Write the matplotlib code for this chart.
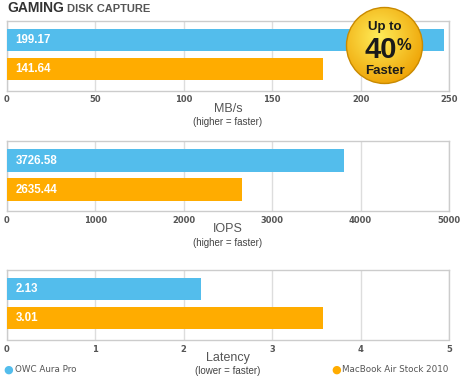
import matplotlib
matplotlib.use("Agg")
import matplotlib.pyplot as plt
import numpy as np
from matplotlib.patches import Circle
from matplotlib import font_manager as fm

# ---- data ----
series = ["OWC Aura Pro", "MacBook Air Stock 2010"]
metrics = ["MB/s", "IOPS", "Latency"]
subtitles = ["(higher = faster)", "(higher = faster)", "(lower = faster)"]
label_owc = ["199.17", "3726.58", "2.13"]
label_mba = ["141.64", "2635.44", "3.01"]
# bar lengths as drawn in the picture
bars_owc = [247, 3812, 2.20]
bars_mba = [178.5, 2662, 3.57]
xmax = [250, 5000, 5]
ticks = [[0, 50, 100, 150, 200, 250],
         [0, 1000, 2000, 3000, 4000, 5000],
         [0, 1, 2, 3, 4, 5]]

BLUE = "#53BDEC"
ORANGE = "#FFAC00"
W, H = 463, 380

fig = plt.figure(figsize=(W / 100, H / 100), dpi=100)
fig.patch.set_facecolor("white")

def fx(px):
    return px / W

def fy(py):
    return 1 - py / H

panel_tops = [21, 141.5, 270]
ax_left, ax_right = 7, 449
ph = 69.5

for i in range(3):
    top = panel_tops[i]
    ax = fig.add_axes([fx(ax_left), fy(top + ph), fx(ax_right - ax_left), ph / H])
    ax.barh([0, 1], [bars_owc[i], bars_mba[i]], height=0.76,
            color=[BLUE, ORANGE], zorder=3)
    ax.set_xlim(0, xmax[i])
    ax.set_ylim(1.74, -0.655)
    ax.set_xticks(ticks[i])
    ax.set_xticklabels([str(t) for t in ticks[i]], fontsize=6, fontweight="bold",
                       color="#555555", family="DejaVu Sans")
    ax.tick_params(axis="x", length=0, pad=3.6)
    ax.set_yticks([])
    ax.grid(axis="x", color="#dddddd", linewidth=1, zorder=0)
    for s in ax.spines.values():
        s.set_color("#cccccc")
        s.set_linewidth(1)
    for y, lab in zip([0, 1], [label_owc[i], label_mba[i]]):
        ax.annotate(lab, xy=(0, y), xytext=(6, 0), textcoords="offset points",
                    va="center", ha="left", color="white", fontsize=8.3,
                    fontweight="bold", family="Liberation Sans", zorder=4)
    cx = (ax_left + ax_right) / 2
    fig.text(fx(cx), fy(top + ph + 18), metrics[i], ha="center", va="center",
             fontsize=9, color="#555555", family="Liberation Sans")
    fig.text(fx(cx), fy(top + ph + 31.5), subtitles[i], ha="center", va="center",
             fontsize=7, color="#444444", family="Liberation Sans")

# title
fig.text(fx(7), fy(12), "GAMING", ha="left", va="baseline", fontsize=10,
         fontweight="bold", color="#333333", family="Liberation Sans")
fig.text(fx(67), fy(12), "DISK CAPTURE", ha="left", va="baseline", fontsize=8,
         fontweight="bold", color="#555555", family="Liberation Sans")

# legend
fig.text(fx(8), fy(370), "\u25CF", ha="center", va="center", fontsize=8,
         color=BLUE, family="DejaVu Sans")
fig.text(fx(15), fy(370), series[0], ha="left", va="center", fontsize=6.3,
         color="#555555", family="DejaVu Sans")
fig.text(fx(336), fy(370), "\u25CF", ha="center", va="center", fontsize=8,
         color=ORANGE, family="DejaVu Sans")
fig.text(fx(342.5), fy(370), series[1], ha="left", va="center", fontsize=6.3,
         color="#555555", family="DejaVu Sans")

# badge
bcx, bcy, br = 384.5, 45.5, 40
axb = fig.add_axes([fx(bcx - br), fy(bcy + br), fx(2 * br), 2 * br / H])
axb.set_xlim(-1, 1)
axb.set_ylim(-1, 1)
axb.axis("off")
yy, xx = np.mgrid[1:-1:200j, -1:1:200j]
d = np.sqrt((xx + 0.15) ** 2 + (yy - 0.2) ** 2)
t = np.clip(d / 1.3, 0, 1)
c0 = np.array([1.0, 0.93, 0.35])
c1 = np.array([0.93, 0.62, 0.0])
img = c0[None, None, :] * (1 - t[..., None]) + c1[None, None, :] * t[..., None]
im = axb.imshow(img, extent=[-1, 1, -1, 1], zorder=2)
clip = Circle((0, 0), 0.95, transform=axb.transData)
im.set_clip_path(clip)
axb.add_patch(Circle((0, 0), 0.95, fill=False, edgecolor="#c98a00",
                     linewidth=1.0, zorder=3))
nf = "Liberation Sans"
axb.text(0, 0.47, "Up to", ha="center", va="center", fontsize=9.5,
         fontweight="bold", family=nf, color="#1a1a1a", zorder=4)
axb.text(-0.1, -0.11, "40", ha="center", va="center", fontsize=21,
         fontweight="bold", family=nf, color="#1a1a1a", zorder=4)
axb.text(0.31, 0.0, "%", ha="left", va="center", fontsize=12,
         fontweight="bold", family=nf, color="#1a1a1a", zorder=4)
axb.text(0, -0.64, "Faster", ha="center", va="center", fontsize=9.5,
         fontweight="bold", family=nf, color="#1a1a1a", zorder=4)

fig.savefig("out.png", dpi=100, facecolor="white")
